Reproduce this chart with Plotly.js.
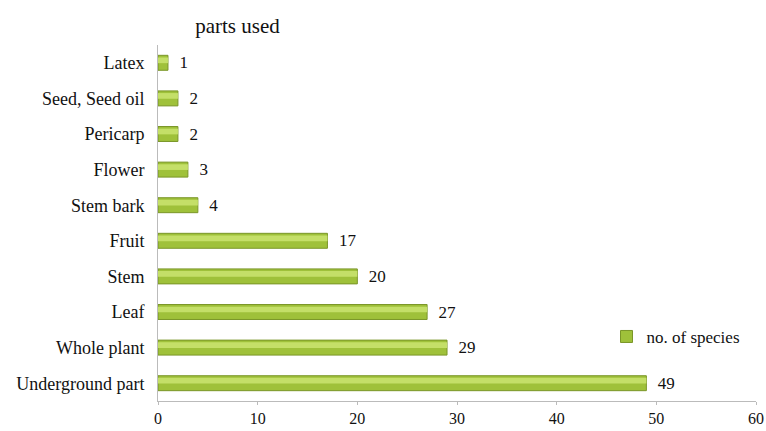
<!DOCTYPE html>
<html>
<head>
<script src="https://cdn.plot.ly/plotly-3.0.1.min.js"></script>
<style>html,body{margin:0;padding:0;background:#fff}</style>
</head>
<body>
<div id="chart" style="width:766px;height:431px"></div>
<script>
const categories = ["Underground part","Whole plant","Leaf","Stem","Fruit","Stem bark","Flower","Pericarp","Seed, Seed oil","Latex"];
const species = [49,29,27,20,17,4,3,2,2,1];
const xTicks = [0,10,20,30,40,50,60];
const seriesName = "no. of species";

const serif = "Liberation Serif, Times New Roman, serif";

const traces = [
  {
    type: "bar", orientation: "h", y: categories, x: species, name: seriesName,
    width: 0.42,
    marker: {color: "#9fc13a", line: {color: "#7a9628", width: 1}},
    text: species.map(v => "\u2002" + v), textposition: "outside", cliponaxis: false,
    constraintext: "none",
    textfont: {family: serif, size: 17, color: "#111"},
    hoverinfo: "x+y"
  },
  {
    type: "bar", orientation: "h", y: categories, x: species, showlegend: false,
    width: 0.16, offset: -0.01,
    marker: {color: "#c4df68", line: {width: 0}},
    hoverinfo: "skip"
  }
];

const layout = {
  width: 766, height: 431,
  margin: {l: 158, r: 10, t: 45, b: 30},
  paper_bgcolor: "#fff", plot_bgcolor: "#fff",
  barmode: "overlay",
  title: {text: "parts used", font: {family: serif, size: 21, color: "#111"}, x: 0.31, xanchor: "center", y: 0.94, yanchor: "middle"},
  font: {family: serif, size: 17, color: "#111"},
  xaxis: {
    range: [0, 60], tickvals: xTicks, ticktext: xTicks.map(String),
    showgrid: false, zeroline: false, showline: true, linecolor: "#bbb", linewidth: 1,
    ticks: "outside", ticklen: 3, tickcolor: "#bbb", automargin: false,
    tickfont: {family: serif, size: 16, color: "#111"}
  },
  yaxis: {
    type: "category", showgrid: false, zeroline: false, showline: true, linecolor: "#bbb", linewidth: 1,
    ticks: "", ticklabelstandoff: 9, automargin: false,
    tickfont: {family: serif, size: 18, color: "#111"}
  },
  showlegend: true,
  legend: {x: 0.75, y: 0.18, xanchor: "left", yanchor: "middle", bgcolor: "rgba(0,0,0,0)",
    font: {family: serif, size: 17, color: "#111"}, itemwidth: 30, traceorder: "normal"},
  bargap: 0.6
};

Plotly.newPlot("chart", traces, layout, {displayModeBar: false, staticPlot: true});
</script>
</body>
</html>
